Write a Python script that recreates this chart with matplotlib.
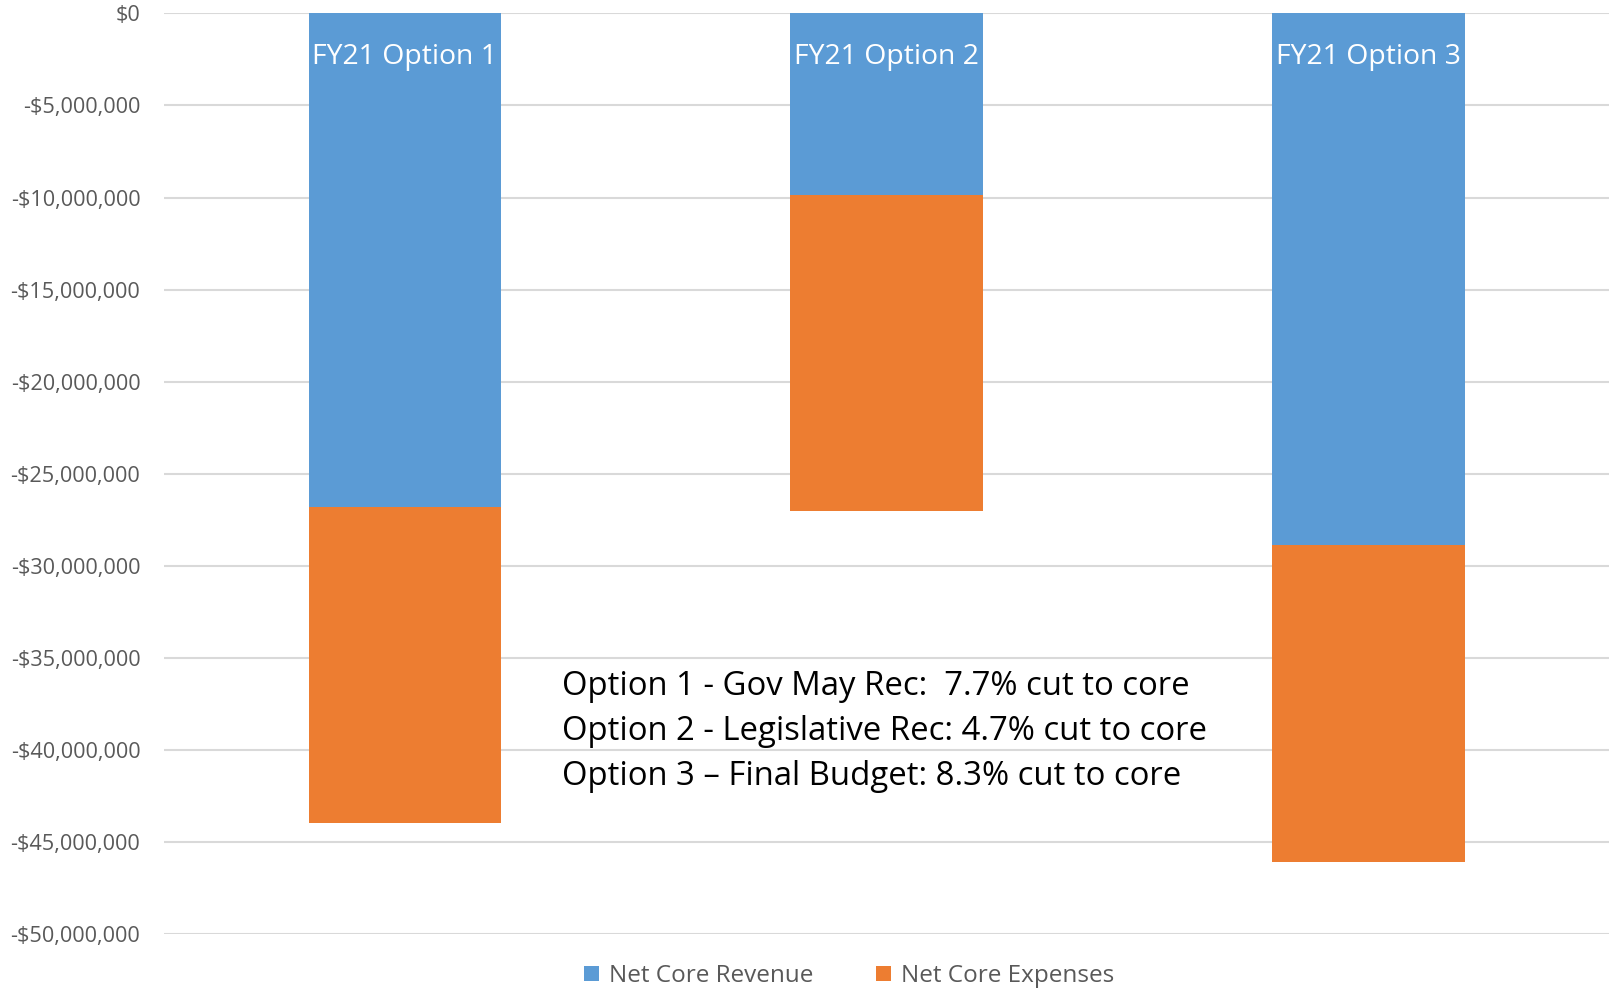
import matplotlib
matplotlib.use("Agg")
import matplotlib.pyplot as plt
from matplotlib.ticker import FuncFormatter, MultipleLocator

categories = ["FY21 Option 1", "FY21 Option 2", "FY21 Option 3"]
net_core_revenue = [-26_800_000, -9_850_000, -28_900_000]
net_core_expenses = [-17_150_000, -17_150_000, -17_170_000]
notes = [
    "Option 1 - Gov May Rec:  7.7% cut to core",
    "Option 2 - Legislative Rec: 4.7% cut to core",
    "Option 3 \u2013 Final Budget: 8.3% cut to core",
]

plt.rcParams['font.family'] = ['Open Sans', 'DejaVu Sans']
BLUE = "#5B9BD5"
ORANGE = "#ED7D31"
GRAY = "#595959"

fig = plt.figure(figsize=(16.14, 9.94), dpi=100)
ax = fig.add_axes([0.1016, 0.0604, 0.8956, 0.9261])

x = list(range(len(categories)))
ax.bar(x, net_core_revenue, width=0.4, color=BLUE, label="Net Core Revenue", zorder=3)
ax.bar(x, net_core_expenses, width=0.4, bottom=net_core_revenue, color=ORANGE,
       label="Net Core Expenses", zorder=3)

for xi, name in zip(x, categories):
    ax.text(xi, -2_350_000, name, ha="center", va="center", color="white",
            fontsize=20.4, zorder=4)

ax.set_xlim(-0.5, 2.5)
ax.set_ylim(-50_000_000, 0)
ax.yaxis.set_major_locator(MultipleLocator(5_000_000))

def fmt(v, pos):
    v = int(round(v))
    if v == 0:
        return "$0"
    return "-${:,}".format(abs(v))

ax.yaxis.set_major_formatter(FuncFormatter(fmt))
ax.tick_params(axis="y", length=0, labelsize=15.6, labelcolor=GRAY, pad=17)
ax.set_xticks([])
ax.grid(axis="y", color="#D9D9D9", linewidth=1.5, zorder=0)
for s in ax.spines.values():
    s.set_visible(False)

ax.text(0.327, -39_000_000, "\n".join(notes), ha="left", va="center", fontsize=23.7,
        color="black", linespacing=1.48, zorder=5)

leg = fig.legend(loc="center", bbox_to_anchor=(0.526, 0.018), ncol=2, frameon=False,
                 fontsize=17.5, handlelength=0.62, handleheight=0.62,
                 handletextpad=0.4, columnspacing=2.6)
for t in leg.get_texts():
    t.set_color(GRAY)

fig.savefig("out.png", dpi=100)
